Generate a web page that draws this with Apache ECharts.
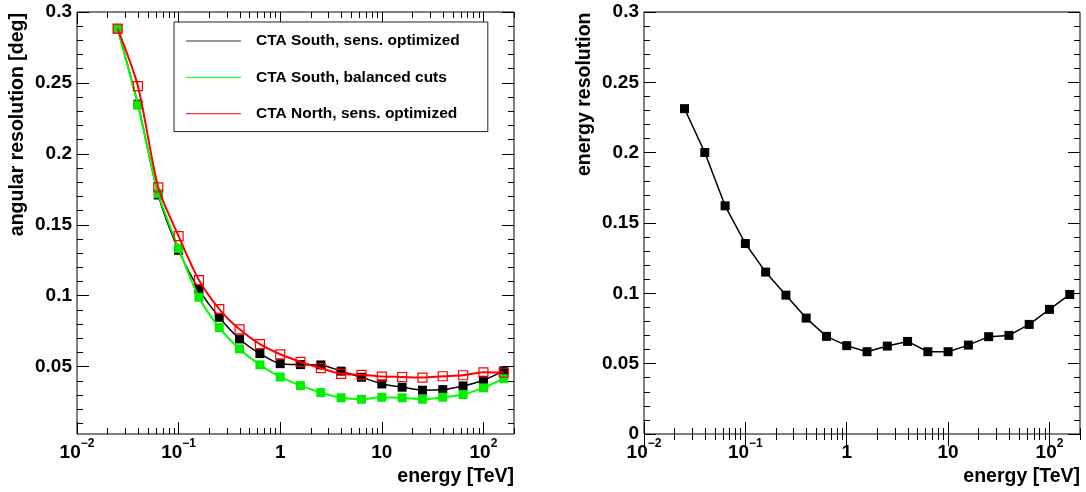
<!DOCTYPE html>
<html><head><meta charset="utf-8">
<script src="https://cdn.jsdelivr.net/npm/echarts@6/dist/echarts.min.js"></script>
<style>html,body{margin:0;padding:0;background:#fff}#c{width:1086px;height:492px}</style>
</head><body><div id="c"></div>
<script>
// ---- data ----
const energies = [0.0251, 0.0398, 0.0631, 0.1, 0.1585, 0.2512, 0.3981, 0.631, 1, 1.585, 2.512, 3.981, 6.31, 10, 15.85, 25.12, 39.81, 63.1, 100, 158.5];
const angSouthSens = [0.288, 0.235, 0.171, 0.132, 0.1045, 0.0848, 0.0695, 0.0592, 0.0521, 0.0514, 0.0512, 0.0468, 0.0425, 0.0378, 0.0355, 0.0334, 0.0338, 0.0364, 0.0404, 0.047];
const angSouthBal = [0.288, 0.2343, 0.1721, 0.1334, 0.0989, 0.0775, 0.0625, 0.0512, 0.0427, 0.0366, 0.0317, 0.028, 0.027, 0.0284, 0.028, 0.027, 0.0284, 0.0303, 0.035, 0.0415];
const angNorthSens = [0.2883, 0.2477, 0.1763, 0.142, 0.111, 0.0906, 0.0763, 0.0658, 0.0587, 0.0533, 0.0489, 0.0449, 0.0442, 0.043, 0.0427, 0.0423, 0.0432, 0.0439, 0.046, 0.0458];
const energyRes = [0.2313, 0.2001, 0.1622, 0.1354, 0.1151, 0.0987, 0.0824, 0.0694, 0.0628, 0.0585, 0.0625, 0.0658, 0.0585, 0.0585, 0.0632, 0.0692, 0.0701, 0.0779, 0.0886, 0.0992];
const seriesNames = ['CTA South, sens. optimized', 'CTA South, balanced cuts', 'CTA North, sens. optimized'];
const xMajorTicks = [0.01, 0.1, 1, 10, 100];
const xTickBase = ['10', '10', '1', '10', '10'];
const xTickExp = ['\u22122', '\u22121', '', '', '2'];
const xMinorTicks = [0.02, 0.03, 0.04, 0.05, 0.06, 0.07, 0.08, 0.09, 0.2, 0.3, 0.4, 0.5, 0.6, 0.7, 0.8, 0.9, 2, 3, 4, 5, 6, 7, 8, 9, 20, 30, 40, 50, 60, 70, 80, 90, 200];
const yLeftMajor = [0.05, 0.1, 0.15, 0.2, 0.25, 0.3];
const yLeftLabels = ['0.05', '0.1', '0.15', '0.2', '0.25', '0.3'];
const yRightMajor = [0, 0.05, 0.1, 0.15, 0.2, 0.25, 0.3];
const yRightLabels = ['0', '0.05', '0.1', '0.15', '0.2', '0.25', '0.3'];
const yMinor = [0.01, 0.02, 0.03, 0.04, 0.06, 0.07, 0.08, 0.09, 0.11, 0.12, 0.13, 0.14, 0.16, 0.17, 0.18, 0.19, 0.21, 0.22, 0.23, 0.24, 0.26, 0.27, 0.28, 0.29];
const xTitle = 'energy [TeV]';
const yTitleLeft = 'angular resolution [deg]';
const yTitleRight = 'energy resolution';

// ---- styles ----
const FONT = 'Liberation Sans, Arial, Helvetica, sans-serif';
const G = [
  { left: 77, top: 12, width: 437, height: 422 },
  { left: 644, top: 12, width: 436, height: 422 }
];
const yMins = [0.0025, 0];

function xAxesFor(g) {
  const base = { type: 'log', logBase: 10, gridIndex: g, min: 0.01, max: 200,
    axisLine: { show: false }, splitLine: { show: false }, minorTick: { show: false } };
  const tick = (vals, len) => ({ show: true, inside: true, length: len, customValues: vals, lineStyle: { color: '#000', width: 1 } });
  return [
    Object.assign({}, base, { position: 'bottom', axisTick: tick(xMajorTicks, 12),
      axisLabel: { show: true, customValues: xMajorTicks, margin: 4,
        formatter: function (v) {
          let i = -1;
          xMajorTicks.forEach((t, k) => { if (Math.abs(Math.log10(t) - Math.log10(v)) < 1e-6) i = k; });
          if (i < 0) return '';
          return '{b|' + xTickBase[i] + '}' + (xTickExp[i] ? '{s|' + xTickExp[i] + '}' : '');
        },
        rich: {
          b: { fontSize: 19, fontWeight: 'bold', fontFamily: FONT, color: '#000', padding: [5, 0, 0, 0], verticalAlign: 'bottom' },
          s: { fontSize: 12, fontWeight: 'bold', fontFamily: FONT, color: '#000', verticalAlign: 'top' }
        } } }),
    Object.assign({}, base, { position: 'bottom', axisTick: tick(xMinorTicks, 6), axisLabel: { show: false } }),
    Object.assign({}, base, { position: 'top', axisTick: tick(xMajorTicks, 12), axisLabel: { show: false } }),
    Object.assign({}, base, { position: 'top', axisTick: tick(xMinorTicks, 6), axisLabel: { show: false } })
  ];
}
function yAxesFor(g, major, labels) {
  const base = { type: 'value', gridIndex: g, min: yMins[g], max: 0.3,
    axisLine: { show: false }, splitLine: { show: false } };
  const tick = (vals, len) => ({ show: true, inside: true, length: len, customValues: vals, lineStyle: { color: '#000', width: 1 } });
  return [
    Object.assign({}, base, { position: 'left', axisTick: tick(major, 12),
      axisLabel: { show: true, customValues: major, margin: 5, fontSize: 19, fontWeight: 'bold', fontFamily: FONT, color: '#000',
        formatter: function (v) {
          let i = major.findIndex(t => Math.abs(t - v) < 1e-9);
          return i < 0 ? '' : labels[i];
        } } }),
    Object.assign({}, base, { position: 'left', axisTick: tick(yMinor, 6), axisLabel: { show: false } }),
    Object.assign({}, base, { position: 'right', axisTick: tick(major, 12), axisLabel: { show: false } }),
    Object.assign({}, base, { position: 'right', axisTick: tick(yMinor, 6), axisLabel: { show: false } })
  ];
}

const pairs = arr => energies.map((e, i) => [e, arr[i]]);
const titleStyle = { fontSize: 19.5, fontWeight: 'bold', fontFamily: FONT, fill: '#000' };
const legendIcon = c => ({ color: c, borderWidth: 0, borderColor: c });

const option = {
  animation: false,
  backgroundColor: '#fff',
  grid: G.map(g => Object.assign({ show: true, borderColor: '#000', borderWidth: 1, backgroundColor: 'transparent', containLabel: false }, g)),
  xAxis: xAxesFor(0).concat(xAxesFor(1)),
  yAxis: yAxesFor(0, yLeftMajor, yLeftLabels).concat(yAxesFor(1, yRightMajor, yRightLabels)),
  legend: {
    show: true, orient: 'vertical', left: 174, top: 22, selectedMode: false,
    padding: [11, 28, 10, 12], itemGap: 20.3, itemWidth: 55, itemHeight: 1.2, itemTextGap: 16,
    backgroundColor: '#fff', borderColor: '#222', borderWidth: 1,
    textStyle: { fontSize: 15.5, fontWeight: 'bold', fontFamily: FONT, color: '#000', padding: [0, 0, 0, 10] },
    data: [
      { name: seriesNames[0], icon: 'rect', itemStyle: legendIcon('#333') },
      { name: seriesNames[1], icon: 'rect', itemStyle: legendIcon('#33ff33') },
      { name: seriesNames[2], icon: 'rect', itemStyle: legendIcon('#ff3333') }
    ]
  },
  series: [
    { name: seriesNames[0], type: 'line', xAxisIndex: 0, yAxisIndex: 0, data: pairs(angSouthSens), smooth: 0.25,
      symbol: 'rect', symbolSize: 9, itemStyle: { color: '#000' }, lineStyle: { color: '#000', width: 1.5 }, emphasis: { disabled: true }, z: 3 },
    { name: seriesNames[1], type: 'line', xAxisIndex: 0, yAxisIndex: 0, data: pairs(angSouthBal), smooth: 0.25,
      symbol: 'rect', symbolSize: 9, itemStyle: { color: '#00ee00' }, lineStyle: { color: '#00ff00', width: 2 }, emphasis: { disabled: true }, z: 4 },
    { name: seriesNames[2], type: 'line', xAxisIndex: 0, yAxisIndex: 0, data: pairs(angNorthSens), smooth: 0.25,
      symbol: 'rect', symbolSize: 9, itemStyle: { color: 'rgba(255,0,0,0)', borderColor: '#ff0000', borderWidth: 1.2 }, lineStyle: { color: '#ff0000', width: 2 }, emphasis: { disabled: true }, z: 5 },
    { name: 'energy resolution', type: 'line', xAxisIndex: 4, yAxisIndex: 4, data: pairs(energyRes),
      symbol: 'rect', symbolSize: 9, itemStyle: { color: '#000' }, lineStyle: { color: '#000', width: 1.5 }, emphasis: { disabled: true }, z: 3 }
  ],
  graphic: [
    { type: 'text', x: 514, y: 477, style: Object.assign({ text: xTitle, align: 'right', verticalAlign: 'middle' }, titleStyle) },
    { type: 'text', x: 1080, y: 477, style: Object.assign({ text: xTitle, align: 'right', verticalAlign: 'middle' }, titleStyle) },
    { type: 'text', x: 18, y: 13, rotation: Math.PI / 2, style: Object.assign({ text: yTitleLeft, align: 'right', verticalAlign: 'middle' }, titleStyle) },
    { type: 'text', x: 585, y: 12.5, rotation: Math.PI / 2, style: Object.assign({ text: yTitleRight, align: 'right', verticalAlign: 'middle' }, titleStyle) }
  ]
};
const chart = echarts.init(document.getElementById('c'), null, { renderer: 'canvas' });
chart.setOption(option);
</script></body></html>
